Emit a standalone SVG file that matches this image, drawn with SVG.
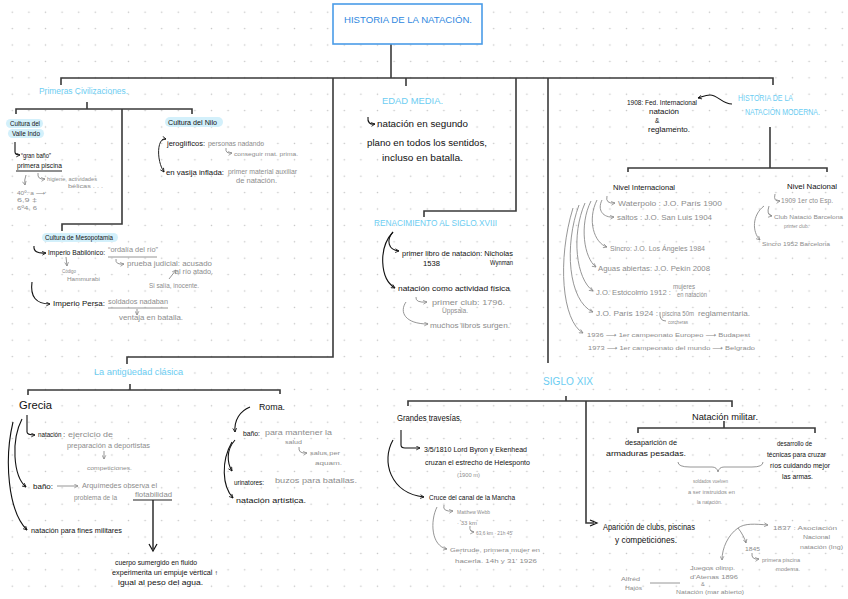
<svg xmlns="http://www.w3.org/2000/svg" width="848" height="599" viewBox="0 0 848 599">
<defs>
<pattern id="dots" x="4" y="4" width="16.6" height="16.4" patternUnits="userSpaceOnUse"><circle cx="8.3" cy="8.2" r="0.8" fill="#c4c4c4"/></pattern>
<marker id="ab" viewBox="0 0 8 8" refX="7" refY="4" markerWidth="5" markerHeight="5" orient="auto-start-reverse" markerUnits="userSpaceOnUse"><path d="M1,1 L7,4 L1,7" fill="none" stroke="#111" stroke-width="1.3"/></marker>
<marker id="ag" viewBox="0 0 8 8" refX="7" refY="4" markerWidth="5" markerHeight="5" orient="auto-start-reverse" markerUnits="userSpaceOnUse"><path d="M1,1 L7,4 L1,7" fill="none" stroke="#888" stroke-width="1.2"/></marker>
</defs>
<style>
text{font-family:"Liberation Sans","DejaVu Sans",sans-serif}
.b{fill:#111;font-size:7.5px}
.g{fill:#8c8c8c;font-size:6.5px}
.h{fill:#6ccdf2;font-size:8.5px}
.t{fill:#2f88e0;font-size:8.5px}
.hl{fill:#d3f0fb}
.ln{fill:none;stroke:#3a3a3a;stroke-width:1.6}
.ar{fill:none;stroke:#111;stroke-width:1.1;marker-end:url(#ab)}
.ga{fill:none;stroke:#8a8a8a;stroke-width:0.9;marker-end:url(#ag)}
.gl{fill:none;stroke:#8a8a8a;stroke-width:0.9}
.bl{fill:none;stroke:#222;stroke-width:1}
</style>
<rect width="848" height="599" fill="#fff"/>
<rect width="848" height="599" fill="url(#dots)"/>

<g id="connectors">
<path class="ln" d="M391,44 V78"/>
<path class="ln" d="M61,85 V78 H773 V85"/>
<path class="ln" d="M406,78 V86"/>
<path class="ln" d="M333,78 V357 H127 V364"/>
<path class="ln" d="M516,78 V211 H424 V217"/>
<path class="ln" d="M548,78 V363"/>
<path class="ln" d="M16,114 V109 H192 V114"/>
<path class="ln" d="M87,102 V109"/>
<path class="ln" d="M122,109 V224 H62 V231"/>
<path class="ln" d="M28,395 V390 H280 V394"/>
<path class="ln" d="M130,384 V390"/>
<path class="ln" d="M408,406 V401 H732 V407"/>
<path class="ln" d="M566,396 V401"/>
<path class="ln" d="M586,401 V523 H594"/>
<path d="M590,520 L597,523 L590,526" fill="none" stroke="#111" stroke-width="1.2"/>
<path class="ln" d="M724,421 V428"/>
<path class="ln" d="M638,433 V428 H815 V433"/>
<path class="ln" d="M770,127 V168"/>
<path class="ln" d="M628,172 V168 H827 V172"/>
<path class="ar" d="M732,104 C722,104 718,95 710,95 C705,95 702,97 698,98"/>
<path class="ln" d="M153,500 V549"/>
<path d="M149,544 L153,551 L157,544" fill="none" stroke="#111" stroke-width="1.2"/>
</g>

<g id="title">
<rect x="333" y="4" width="149" height="40" fill="#fff" stroke="#4a9ce8" stroke-width="1.6"/>
<text class="t" x="344" y="23" textLength="128" lengthAdjust="spacingAndGlyphs">HISTORIA DE LA NATACIÓN.</text>
</g>

<g id="primeras-civilizaciones">
<text class="h" x="39" y="94" textLength="89" lengthAdjust="spacingAndGlyphs">Primeras Civilizaciones.</text>
</g>

<g id="valle-indo">
<rect class="hl" x="6" y="119" width="37" height="9" rx="4.5"/>
<rect class="hl" x="8" y="129" width="36" height="9" rx="4.5"/>
<text class="b" x="10" y="126" style="font-size:6.5px" textLength="30" lengthAdjust="spacingAndGlyphs">Cultura del</text>
<text class="b" x="12" y="136" style="font-size:6.5px" textLength="28" lengthAdjust="spacingAndGlyphs">Valle Indo</text>
<path class="ar" d="M15,142 V152 Q15,155 20,155"/>
<text class="b" x="21" y="158" style="font-size:6.5px" textLength="30" lengthAdjust="spacingAndGlyphs">“gran baño”</text>
<text class="b" x="17" y="168" style="font-size:6.5px" textLength="45" lengthAdjust="spacingAndGlyphs">primera piscina</text>
<path class="bl" d="M16,171 H62"/>
<path class="ga" d="M26,175 Q24,180 25,185"/>
<path class="ga" d="M38,173 Q37,180 45,179"/>
<text class="g" x="47" y="181" style="font-size:6px" textLength="50" lengthAdjust="spacingAndGlyphs">higiene, actividades</text>
<text class="g" x="68" y="188" style="font-size:6px" textLength="35" lengthAdjust="spacingAndGlyphs">bélicas . . .</text>
<text class="g" x="17" y="195" style="font-size:5.5px" textLength="28" lengthAdjust="spacingAndGlyphs">40º: a ⟶</text>
<text class="g" x="17" y="202" style="font-size:5.5px" textLength="20" lengthAdjust="spacingAndGlyphs">6,9  ‡</text>
<text class="g" x="17" y="210" style="font-size:5.5px" textLength="20" lengthAdjust="spacingAndGlyphs">6º4, 6</text>
</g>

<g id="nilo">
<rect class="hl" x="165" y="117" width="58" height="10" rx="5"/>
<text class="b" x="168" y="125" style="font-size:7px" textLength="49" lengthAdjust="spacingAndGlyphs">Cultura del Nilo</text>
<path class="bl" d="M166,139 C157,137 156,160 164,172" marker-start="url(#ab)" marker-end="url(#ab)"/>
<text class="b" x="167" y="146" style="font-size:7px" textLength="38" lengthAdjust="spacingAndGlyphs">jeroglíficos:</text>
<text class="g" x="208" y="146" textLength="56" lengthAdjust="spacingAndGlyphs">personas nadando</text>
<path class="ga" d="M226,148 Q225,154 232,153"/>
<text class="g" x="234" y="156" style="font-size:6px" textLength="64" lengthAdjust="spacingAndGlyphs">conseguir mat. prima.</text>
<text class="b" x="166" y="175" style="font-size:7px" textLength="58" lengthAdjust="spacingAndGlyphs">en vasija inflada:</text>
<text class="g" x="228" y="174" textLength="69" lengthAdjust="spacingAndGlyphs">primer material auxiliar</text>
<text class="g" x="236" y="183" textLength="41" lengthAdjust="spacingAndGlyphs">de natación.</text>
</g>

<g id="mesopotamia">
<rect class="hl" x="42" y="233" width="76" height="9" rx="4.5"/>
<text class="b" x="45" y="240" style="font-size:6.5px" textLength="68" lengthAdjust="spacingAndGlyphs">Cultura de Mesopotamia</text>
<path class="ar" d="M34,246 Q33,254 46,253"/>
<text class="b" x="48" y="255" style="font-size:6.5px" textLength="57" lengthAdjust="spacingAndGlyphs">Imperio Babilónico:</text>
<text class="g" x="108" y="252" textLength="50" lengthAdjust="spacingAndGlyphs">“ordalía del río”</text>
<path class="gl" d="M108,257 H157"/>
<path class="ga" d="M116,259 Q115,265 124,264"/>
<text class="g" x="127" y="266" textLength="85" lengthAdjust="spacingAndGlyphs">prueba judicial: acusado</text>
<text class="g" x="175" y="274" textLength="38" lengthAdjust="spacingAndGlyphs">al río atado.</text>
<path class="ga" d="M169,279 L176,270"/>
<text class="g" x="149" y="288" textLength="50" lengthAdjust="spacingAndGlyphs">Si salía, inocente.</text>
<path class="ga" d="M66,257 L67,266"/>
<text class="g" x="62" y="273" style="font-size:5.5px" textLength="14" lengthAdjust="spacingAndGlyphs">Código</text>
<text class="g" x="67" y="281" style="font-size:5.5px" textLength="33" lengthAdjust="spacingAndGlyphs">Hammurabi</text>
<path class="ar" d="M32,282 Q29,304 50,304"/>
<text class="b" x="53" y="306" style="font-size:6.5px" textLength="52" lengthAdjust="spacingAndGlyphs">Imperio Persa:</text>
<text class="g" x="108" y="304" style="font-size:7px" textLength="60" lengthAdjust="spacingAndGlyphs">soldados nadaban</text>
<path class="gl" d="M108,308 H168"/>
<path class="ga" d="M137,309 V315"/>
<text class="g" x="119" y="320" textLength="64" lengthAdjust="spacingAndGlyphs">ventaja en batalla.</text>
</g>

<g id="edad-media">
<text class="h" x="382" y="104" textLength="61" lengthAdjust="spacingAndGlyphs">EDAD MEDIA.</text>
<path class="ar" d="M368,117 Q367,125 375,124"/>
<text class="b" x="377" y="127" style="font-size:8.5px" textLength="91" lengthAdjust="spacingAndGlyphs">natación en segundo</text>
<text class="b" x="367" y="146" style="font-size:8.5px" textLength="120" lengthAdjust="spacingAndGlyphs">plano en todos los sentidos,</text>
<text class="b" x="382" y="161" style="font-size:8.5px" textLength="81" lengthAdjust="spacingAndGlyphs">incluso en batalla.</text>
</g>

<g id="renacimiento">
<text class="h" x="374" y="226" textLength="123" lengthAdjust="spacingAndGlyphs">RENACIMIENTO AL SIGLO XVIII</text>
<path class="ar" d="M393,232 C386,240 388,250 399,251"/>
<path class="ar" d="M393,232 C378,248 380,279 395,288"/>
<text class="b" x="402" y="256" style="font-size:7px" textLength="111" lengthAdjust="spacingAndGlyphs">primer libro de natación: Nicholas</text>
<text class="b" x="423" y="266" style="font-size:7px" textLength="17" lengthAdjust="spacingAndGlyphs">1538</text>
<text class="b" x="490" y="265" style="font-size:6.5px" textLength="23" lengthAdjust="spacingAndGlyphs">Wynman</text>
<text class="b" x="398" y="291" textLength="112" lengthAdjust="spacingAndGlyphs">natación como actividad física</text>
<path class="ga" d="M416,297 Q415,303 427,302"/>
<text class="g" x="432" y="305" style="font-size:7px" textLength="73" lengthAdjust="spacingAndGlyphs">primer club: 1796.</text>
<text class="g" x="442" y="313" textLength="26" lengthAdjust="spacingAndGlyphs">Uppsala.</text>
<path class="ga" d="M406,302 C399,312 405,324 428,324"/>
<text class="g" x="430" y="328" style="font-size:7px" textLength="80" lengthAdjust="spacingAndGlyphs">muchos libros surgen.</text>
</g>

<g id="moderna">
<text class="h" x="738" y="101" textLength="55" lengthAdjust="spacingAndGlyphs">HISTORIA DE LA</text>
<text class="h" x="745" y="115" textLength="75" lengthAdjust="spacingAndGlyphs">NATACIÓN MODERNA.</text>
<text class="b" x="627" y="105" style="font-size:6.5px" textLength="70" lengthAdjust="spacingAndGlyphs">1908: Fed. Internacional</text>
<text class="b" x="649" y="114" style="font-size:6.5px" textLength="30" lengthAdjust="spacingAndGlyphs">natación</text>
<text class="b" x="655" y="123" style="font-size:6.5px">&amp;</text>
<text class="b" x="648" y="132" style="font-size:6.5px" textLength="42" lengthAdjust="spacingAndGlyphs">reglamento.</text>
</g>

<g id="nivel-internacional">
<text class="b" x="613" y="190" style="font-size:8px" textLength="62" lengthAdjust="spacingAndGlyphs">Nivel Internacional</text>
<path class="ga" d="M607,196 Q605,204 615,203"/>
<text class="g" x="618" y="206" style="font-size:8px" textLength="104" lengthAdjust="spacingAndGlyphs">Waterpolo : J.O. París 1900</text>
<path class="ga" d="M602,200 C597,210 603,218 614,217"/>
<text class="g" x="617" y="220" style="font-size:7.5px" textLength="95" lengthAdjust="spacingAndGlyphs">saltos : J.O. San Luis 1904</text>
<path class="ga" d="M597,200 C587,220 594,243 607,247"/>
<text class="g" x="610" y="251" style="font-size:7.5px" textLength="95" lengthAdjust="spacingAndGlyphs">Sincro: J.O. Los Ángeles 1984</text>
<path class="ga" d="M591,201 C579,225 584,258 596,267"/>
<text class="g" x="598" y="271" style="font-size:7.5px" textLength="112" lengthAdjust="spacingAndGlyphs">Aguas abiertas: J.O. Pekín 2008</text>
<path class="ga" d="M585,203 C571,235 576,279 593,291"/>
<text class="g" x="596" y="295" style="font-size:7.5px" textLength="75" lengthAdjust="spacingAndGlyphs">J.O. Estocolmo 1912 :</text>
<text class="g" x="673" y="289" textLength="22" lengthAdjust="spacingAndGlyphs">mujeres</text>
<text class="g" x="677" y="297" textLength="30" lengthAdjust="spacingAndGlyphs">en natación</text>
<path class="ga" d="M579,205 C564,245 568,301 593,312"/>
<text class="g" x="596" y="316" style="font-size:7.5px" textLength="62" lengthAdjust="spacingAndGlyphs">J.O. París 1924 :</text>
<text class="g" x="662" y="316" textLength="32" lengthAdjust="spacingAndGlyphs">piscina 50m</text>
<text class="g" x="698" y="316" textLength="52" lengthAdjust="spacingAndGlyphs">reglamentaria.</text>
<path class="gl" d="M660,312 Q659,321 666,321"/>
<text class="g" x="668" y="324" style="font-size:5.5px" textLength="20" lengthAdjust="spacingAndGlyphs">corcheras</text>
<path class="ga" d="M573,208 C557,260 562,321 583,333"/>
<text class="g" x="587" y="337" style="font-size:6px" textLength="163" lengthAdjust="spacingAndGlyphs">1936 ⟶ 1er campeonato Europeo ⟶ Budapest</text>
<text class="g" x="588" y="350" style="font-size:6px" textLength="167" lengthAdjust="spacingAndGlyphs">1973 ⟶ 1er campeonato del mundo ⟶ Belgrado</text>
</g>

<g id="nivel-nacional">
<text class="b" x="787" y="189" style="font-size:8px" textLength="50" lengthAdjust="spacingAndGlyphs">Nivel Nacional</text>
<path class="ga" d="M775,194 Q773,202 780,201"/>
<text class="g" x="781" y="203" textLength="52" lengthAdjust="spacingAndGlyphs">1909 1er cto Esp.</text>
<path class="ga" d="M769,206 Q766,215 772,216"/>
<text class="g" x="774" y="219" style="font-size:6px" textLength="69" lengthAdjust="spacingAndGlyphs">Club Natació Barcelona</text>
<text class="g" x="784" y="228" style="font-size:5.5px" textLength="25" lengthAdjust="spacingAndGlyphs">primer club.</text>
<path class="ga" d="M764,206 C752,215 752,232 760,240"/>
<text class="g" x="762" y="246" style="font-size:5.5px" textLength="68" lengthAdjust="spacingAndGlyphs">Sincro 1952 Barcelona</text>
</g>

<g id="antiguedad-clasica">
<text class="h" x="94" y="375" textLength="89" lengthAdjust="spacingAndGlyphs">La antigüedad clásica</text>
</g>

<g id="grecia">
<text class="b" x="19" y="409" style="font-size:11px" textLength="33" lengthAdjust="spacingAndGlyphs">Grecia</text>
<path class="ar" d="M27,415 V432 Q27,435 35,435"/>
<text class="b" x="38" y="437" style="font-size:6.5px" textLength="27" lengthAdjust="spacingAndGlyphs">natación :</text>
<text class="g" x="68" y="437" textLength="45" lengthAdjust="spacingAndGlyphs">ejercicio de</text>
<text class="g" x="67" y="448" textLength="83" lengthAdjust="spacingAndGlyphs">preparación a deportistas</text>
<path class="ga" d="M104,451 V459"/>
<text class="g" x="87" y="470" style="font-size:5.5px" textLength="45" lengthAdjust="spacingAndGlyphs">competiciones.</text>
<path class="ar" d="M22,419 C11,440 13,476 26,487"/>
<text class="b" x="33" y="489" style="font-size:7px" textLength="20" lengthAdjust="spacingAndGlyphs">baño:</text>
<path class="ga" d="M57,486 H78"/>
<text class="g" x="82" y="488" textLength="75" lengthAdjust="spacingAndGlyphs">Arquímedes observa el</text>
<text class="g" x="74" y="500" textLength="43" lengthAdjust="spacingAndGlyphs">problema de la</text>
<text class="g" x="135" y="497" textLength="37" lengthAdjust="spacingAndGlyphs">flotabilidad</text>
<path class="bl" d="M133,500 H172"/>
<path class="ar" d="M13,422 C4,460 8,511 27,530"/>
<text class="b" x="31" y="533" style="font-size:7px" textLength="91" lengthAdjust="spacingAndGlyphs">natación para fines militares</text>
<text class="b" x="115" y="565" style="font-size:6.5px" textLength="82" lengthAdjust="spacingAndGlyphs">cuerpo sumergido en fluido</text>
<text class="b" x="112" y="575" style="font-size:6.5px" textLength="106" lengthAdjust="spacingAndGlyphs">experimenta un empuje vertical ↑</text>
<text class="b" x="118" y="585" style="font-size:6.5px" textLength="85" lengthAdjust="spacingAndGlyphs">igual al peso del agua.</text>
</g>

<g id="roma">
<text class="b" x="259" y="410" style="font-size:9px" textLength="26" lengthAdjust="spacingAndGlyphs">Roma.</text>
<path class="ar" d="M250,407 C240,411 234,420 235,432"/>
<text class="b" x="243" y="436" style="font-size:6.5px" textLength="17" lengthAdjust="spacingAndGlyphs">baño:</text>
<text class="g" x="265" y="435" textLength="67" lengthAdjust="spacingAndGlyphs">para mantener la</text>
<text class="g" x="285" y="444" style="font-size:6px" textLength="17" lengthAdjust="spacingAndGlyphs">salud</text>
<path class="ga" d="M299,447 Q298,454 307,453"/>
<text class="g" x="310" y="455" style="font-size:6px" textLength="30" lengthAdjust="spacingAndGlyphs">salus per</text>
<text class="g" x="315" y="465" style="font-size:6px" textLength="27" lengthAdjust="spacingAndGlyphs">aquam.</text>
<path class="ar" d="M235,440 C226,450 227,463 232,471"/>
<path class="ar" d="M232,442 C221,461 222,486 233,498"/>
<text class="b" x="234" y="485" style="font-size:6.5px" textLength="30" lengthAdjust="spacingAndGlyphs">urinatores:</text>
<text class="g" x="275" y="483" textLength="82" lengthAdjust="spacingAndGlyphs">buzos para batallas.</text>
<text class="b" x="236" y="503" textLength="70" lengthAdjust="spacingAndGlyphs">natación artística.</text>
</g>

<g id="siglo-xix">
<text class="h" x="543" y="385" style="font-size:10px" textLength="50" lengthAdjust="spacingAndGlyphs">SIGLO XIX</text>
</g>

<g id="grandes-travesias">
<text class="b" x="397" y="421" style="font-size:8.5px" textLength="65" lengthAdjust="spacingAndGlyphs">Grandes travesías.</text>
<path class="ar" d="M401,430 V445 Q401,448 405,448 H420"/>
<text class="b" x="424" y="452" style="font-size:6.5px" textLength="103" lengthAdjust="spacingAndGlyphs">3/5/1810 Lord Byron y Ekenhead</text>
<text class="b" x="425" y="465" style="font-size:6.5px" textLength="105" lengthAdjust="spacingAndGlyphs">cruzan el estrecho de Helesponto</text>
<text class="g" x="457" y="477" style="font-size:6px" textLength="23" lengthAdjust="spacingAndGlyphs">(1900 m)</text>
<path class="ar" d="M393,440 C381,461 390,493 424,497"/>
<text class="b" x="429" y="500" style="font-size:6.5px" textLength="86" lengthAdjust="spacingAndGlyphs">Cruce del canal de la Mancha</text>
<path class="ga" d="M444,505 Q442,512 453,511"/>
<text class="g" x="457" y="514" style="font-size:5.5px" textLength="33" lengthAdjust="spacingAndGlyphs">Matthew Webb</text>
<text class="g" x="457" y="525" style="font-size:5px" textLength="20" lengthAdjust="spacingAndGlyphs">· 33 km</text>
<path class="ga" d="M470,526 Q469,532 474,532"/>
<text class="g" x="476" y="535" style="font-size:4.5px" textLength="37" lengthAdjust="spacingAndGlyphs">63,6 km · 21h 45'</text>
<path class="ga" d="M437,507 C430,521 431,546 447,549"/>
<text class="g" x="450" y="552" style="font-size:6px" textLength="90" lengthAdjust="spacingAndGlyphs">Gertrude, primera mujer en</text>
<text class="g" x="455" y="563" style="font-size:6px" textLength="82" lengthAdjust="spacingAndGlyphs">hacerla. 14h y 31' 1926</text>
</g>

<g id="natacion-militar">
<text class="b" x="692" y="420" style="font-size:9px" textLength="66" lengthAdjust="spacingAndGlyphs">Natación militar.</text>
<text class="b" x="625" y="445" style="font-size:7px" textLength="52" lengthAdjust="spacingAndGlyphs">desaparición de</text>
<text class="b" x="606" y="456" style="font-size:7px" textLength="80" lengthAdjust="spacingAndGlyphs">armaduras pesadas.</text>
<text class="b" x="777" y="446" style="font-size:7px" textLength="35" lengthAdjust="spacingAndGlyphs">desarrollo de</text>
<text class="b" x="767" y="457" style="font-size:7px" textLength="59" lengthAdjust="spacingAndGlyphs">técnicas para cruzar</text>
<text class="b" x="770" y="468" style="font-size:7px" textLength="60" lengthAdjust="spacingAndGlyphs">ríos cuidando mejor</text>
<text class="b" x="782" y="479" style="font-size:7px" textLength="31" lengthAdjust="spacingAndGlyphs">las armas.</text>
<path class="gl" d="M678,462 Q678,467 690,467 H712 Q717,467 718,472 Q719,467 724,467 H752 Q763,467 763,462"/>
<text class="g" x="693" y="483" style="font-size:5.5px" textLength="35" lengthAdjust="spacingAndGlyphs">soldados vuelven</text>
<text class="g" x="688" y="494" style="font-size:5.5px" textLength="47" lengthAdjust="spacingAndGlyphs">a ser instruidos en</text>
<text class="g" x="697" y="504" style="font-size:5.5px" textLength="25" lengthAdjust="spacingAndGlyphs">la natación.</text>
</g>

<g id="clubs">
<text class="b" x="603" y="530" style="font-size:9.5px" textLength="92" lengthAdjust="spacingAndGlyphs">Aparición de clubs, piscinas</text>
<text class="b" x="615" y="543" style="font-size:9.5px" textLength="62" lengthAdjust="spacingAndGlyphs">y competiciones.</text>
<path class="ga" d="M738,528 C745,523 755,524 768,525"/>
<path class="ga" d="M738,528 C742,533 745,539 746,543"/>
<path class="ga" d="M738,528 C728,535 722,548 722,560"/>
<text class="g" x="773" y="530" style="font-size:6px" textLength="64" lengthAdjust="spacingAndGlyphs">1837 : Asociación</text>
<text class="g" x="803" y="539" style="font-size:5.5px" textLength="27" lengthAdjust="spacingAndGlyphs">Nacional</text>
<text class="g" x="800" y="549" style="font-size:5.5px" textLength="43" lengthAdjust="spacingAndGlyphs">natación (Ing)</text>
<text class="g" x="745" y="551" style="font-size:5.5px" textLength="15" lengthAdjust="spacingAndGlyphs">1845</text>
<path class="ga" d="M752,553 Q751,560 759,559"/>
<text class="g" x="762" y="562" style="font-size:5px" textLength="38" lengthAdjust="spacingAndGlyphs">primera piscina</text>
<text class="g" x="776" y="571" style="font-size:5px" textLength="24" lengthAdjust="spacingAndGlyphs">moderna.</text>
<text class="g" x="690" y="570" style="font-size:5.5px" textLength="45" lengthAdjust="spacingAndGlyphs">Juegos olimp.</text>
<text class="g" x="690" y="579" style="font-size:5.5px" textLength="48" lengthAdjust="spacingAndGlyphs">d'Atenas 1896</text>
<text class="g" x="701" y="586" style="font-size:5.5px">&amp;</text>
<text class="g" x="676" y="594" style="font-size:5.5px" textLength="68" lengthAdjust="spacingAndGlyphs">Natación (mar abierto)</text>
<text class="g" x="621" y="581" style="font-size:5px" textLength="19" lengthAdjust="spacingAndGlyphs">Alfréd</text>
<text class="g" x="625" y="590" style="font-size:5px" textLength="17" lengthAdjust="spacingAndGlyphs">Hajós</text>
<path class="gl" d="M650,583 H680"/>
</g>
</svg>
